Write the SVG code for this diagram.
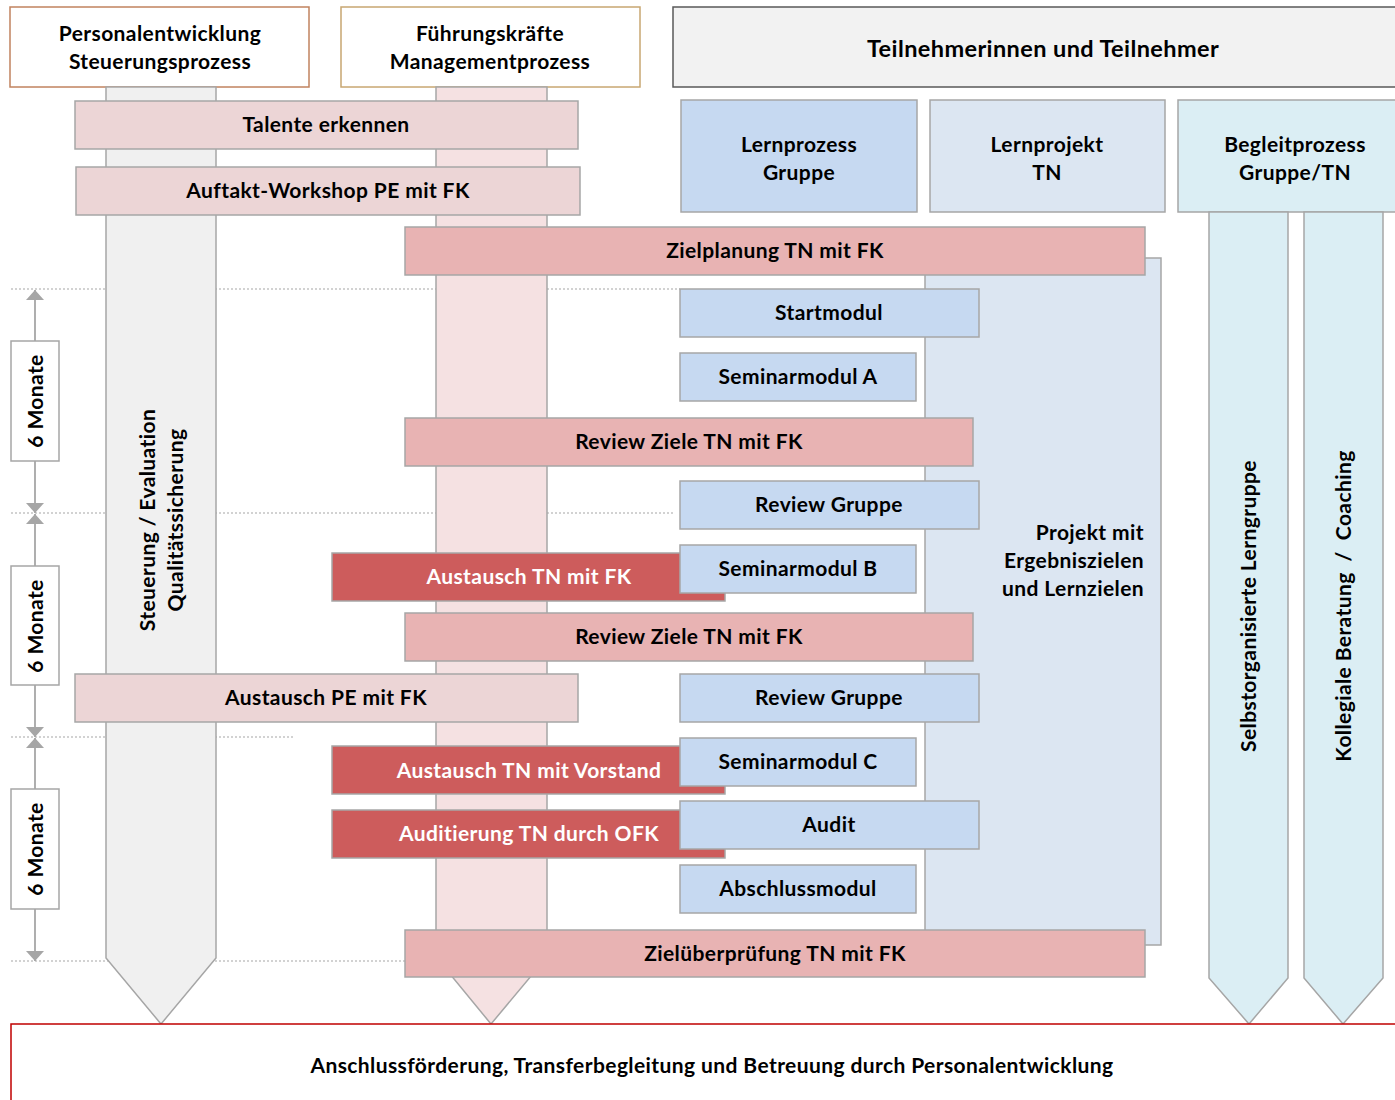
<svg xmlns="http://www.w3.org/2000/svg" width="1395" height="1100" viewBox="0 0 1395 1100">
<defs>
<style>
text{font-family:"Lato","Open Sans","Liberation Sans",sans-serif;font-weight:bold;font-size:21px;letter-spacing:0.4px;fill:#000;text-anchor:middle}
.bar{stroke:#a6a6a6;stroke-width:1.5}
.lp{fill:#ecd5d6}
.zp{fill:#e8b3b3}
.dr{fill:#cd5c5c}
.bl{fill:#c6d9f1}
.pj{fill:#dce6f2}
.bg{fill:#dbeef4}
.grid{stroke:#a6a6a6;stroke-width:1.2;stroke-dasharray:2 2;fill:none}
.conn{stroke:#a6a6a6;stroke-width:1.8;fill:none}
.pre{white-space:pre}
</style>
<marker id="ah" viewBox="0 0 10 18" refX="10" refY="9" markerWidth="10" markerHeight="18" markerUnits="userSpaceOnUse" orient="auto">
<path d="M0,0 L10,9 L0,18 Z" fill="#a6a6a6"/>
</marker>
</defs>
<rect width="1395" height="1100" fill="#fff"/>

<g id="gridlines">
<line class="grid" x1="11" y1="289" x2="680" y2="289"/>
<line class="grid" x1="11" y1="513" x2="673" y2="513"/>
<line class="grid" x1="11" y1="737" x2="295" y2="737"/>
<line class="grid" x1="11" y1="961" x2="405" y2="961"/>
</g>

<g id="header-pe">
<rect x="10" y="7" width="299" height="80" fill="#fff" stroke="#c1835f" stroke-width="1.5"/>
<text x="160" y="41">Personalentwicklung</text>
<text x="160" y="69">Steuerungsprozess</text>
</g>
<g id="header-fk">
<rect x="341" y="7" width="299" height="80" fill="#fff" stroke="#c8a772" stroke-width="1.5"/>
<text x="490" y="41">Führungskräfte</text>
<text x="490" y="69">Managementprozess</text>
</g>
<g id="header-tn">
<rect x="673" y="7" width="730" height="80" fill="#f2f2f2" stroke="#595959" stroke-width="1.5"/>
<text x="1043" y="57" style="font-size:23.5px">Teilnehmerinnen und Teilnehmer</text>
</g>

<g id="col-steuerung">
<path d="M106,87 L216,87 L216,958 L161,1024 L106,958 Z" fill="#f0f0f0" stroke="#a6a6a6" stroke-width="1.5"/>
<g transform="translate(161,520) rotate(-90)">
<text x="0" y="-6">Steuerung / Evaluation</text>
<text x="0" y="22">Qualitätssicherung</text>
</g>
</g>
<g id="col-management">
<path d="M436,87 L547,87 L547,957 L491,1024 L436,957 Z" fill="#f5e1e2" stroke="#a6a6a6" stroke-width="1.5"/>
</g>

<g id="lernprozess-gruppe">
<rect class="bar bl" x="681" y="100" width="236" height="112"/>
<text x="799" y="152">Lernprozess</text>
<text x="799" y="180">Gruppe</text>
</g>
<g id="lernprojekt-tn">
<rect class="bar pj" x="930" y="100" width="235" height="112"/>
<text x="1047" y="152">Lernprojekt</text>
<text x="1047" y="180">TN</text>
</g>
<g id="begleitprozess">
<rect class="bar bg" x="1178" y="100" width="225" height="112"/>
<text x="1295" y="152">Begleitprozess</text>
<text x="1295" y="180">Gruppe/TN</text>
</g>
<g id="col-lerngruppe">
<path class="bar bg" d="M1209,212 L1288,212 L1288,978 L1249,1024 L1209,978 Z"/>
<text transform="translate(1249,606) rotate(-90)" x="0" y="7">Selbstorganisierte Lerngruppe</text>
</g>
<g id="col-coaching">
<path class="bar bg" d="M1304,212 L1383,212 L1383,978 L1343,1024 L1304,978 Z"/>
<text class="pre" transform="translate(1343,606) rotate(-90)" x="0" y="8">Kollegiale Beratung  /  Coaching</text>
</g>

<g id="projekt">
<rect class="bar pj" x="925" y="258" width="236" height="687"/>
<text x="1144" y="540" style="text-anchor:end">Projekt mit</text>
<text x="1144" y="568" style="text-anchor:end">Ergebniszielen</text>
<text x="1144" y="596" style="text-anchor:end">und Lernzielen</text>
</g>

<g id="talente">
<rect class="bar lp" x="75" y="101" width="503" height="48"/>
<text x="326" y="132">Talente erkennen</text>
</g>
<g id="auftakt">
<rect class="bar lp" x="76" y="167" width="504" height="48"/>
<text x="328" y="198">Auftakt-Workshop PE mit FK</text>
</g>
<g id="zielplanung">
<rect class="bar zp" x="405" y="227" width="740" height="48"/>
<text x="775" y="258">Zielplanung TN mit FK</text>
</g>
<g id="startmodul">
<rect class="bar bl" x="680" y="289" width="299" height="48"/>
<text x="829" y="320">Startmodul</text>
</g>
<g id="seminarmodul-a">
<rect class="bar bl" x="680" y="353" width="236" height="48"/>
<text x="798" y="384">Seminarmodul A</text>
</g>
<g id="review-ziele-1">
<rect class="bar zp" x="405" y="418" width="568" height="48"/>
<text x="689" y="449">Review Ziele TN mit FK</text>
</g>
<g id="review-gruppe-1">
<rect class="bar bl" x="680" y="481" width="299" height="48"/>
<text x="829" y="512">Review Gruppe</text>
</g>
<g id="austausch-tn-fk">
<rect class="bar dr" x="332" y="553" width="393" height="48"/>
<text x="529" y="584" style="fill:#fff">Austausch TN mit FK</text>
</g>
<g id="seminarmodul-b">
<rect class="bar bl" x="680" y="545" width="236" height="48"/>
<text x="798" y="576">Seminarmodul B</text>
</g>
<g id="review-ziele-2">
<rect class="bar zp" x="405" y="613" width="568" height="48"/>
<text x="689" y="644">Review Ziele TN mit FK</text>
</g>
<g id="austausch-pe-fk">
<rect class="bar lp" x="75" y="674" width="503" height="48"/>
<text x="326" y="705">Austausch PE mit FK</text>
</g>
<g id="review-gruppe-2">
<rect class="bar bl" x="680" y="674" width="299" height="48"/>
<text x="829" y="705">Review Gruppe</text>
</g>
<g id="austausch-tn-vorstand">
<rect class="bar dr" x="332" y="746" width="393" height="48"/>
<text x="529" y="778" style="fill:#fff">Austausch TN mit Vorstand</text>
</g>
<g id="seminarmodul-c">
<rect class="bar bl" x="680" y="738" width="236" height="48"/>
<text x="798" y="769">Seminarmodul C</text>
</g>
<g id="auditierung">
<rect class="bar dr" x="332" y="810" width="393" height="48"/>
<text x="529" y="841" style="fill:#fff">Auditierung TN durch OFK</text>
</g>
<g id="audit">
<rect class="bar bl" x="680" y="801" width="299" height="48"/>
<text x="829" y="832">Audit</text>
</g>
<g id="abschlussmodul">
<rect class="bar bl" x="680" y="865" width="236" height="48"/>
<text x="798" y="896">Abschlussmodul</text>
</g>
<g id="zielueberpruefung">
<rect class="bar zp" x="405" y="930" width="740" height="47"/>
<text x="775" y="961">Zielüberprüfung TN mit FK</text>
</g>

<g id="anschluss">
<rect x="11" y="1024" width="1400" height="90" fill="#fff" stroke="#c00000" stroke-width="1.5"/>
<text x="712" y="1073">Anschlussförderung, Transferbegleitung und Betreuung durch Personalentwicklung</text>
</g>

<g id="connectors">
<line class="conn" x1="35" y1="341" x2="35" y2="290" marker-end="url(#ah)"/>
<line class="conn" x1="35" y1="461" x2="35" y2="513" marker-end="url(#ah)"/>
<line class="conn" x1="35" y1="566" x2="35" y2="514" marker-end="url(#ah)"/>
<line class="conn" x1="35" y1="685" x2="35" y2="737" marker-end="url(#ah)"/>
<line class="conn" x1="35" y1="789" x2="35" y2="738" marker-end="url(#ah)"/>
<line class="conn" x1="35" y1="909" x2="35" y2="961" marker-end="url(#ah)"/>
</g>

<g id="monate-1">
<rect x="11" y="341" width="48" height="120" fill="#fff" stroke="#a6a6a6" stroke-width="1.5"/>
<text transform="translate(35,401) rotate(-90)" x="0" y="8">6 Monate</text>
</g>
<g id="monate-2">
<rect x="11" y="566" width="48" height="119" fill="#fff" stroke="#a6a6a6" stroke-width="1.5"/>
<text transform="translate(35,626) rotate(-90)" x="0" y="8">6 Monate</text>
</g>
<g id="monate-3">
<rect x="11" y="789" width="48" height="120" fill="#fff" stroke="#a6a6a6" stroke-width="1.5"/>
<text transform="translate(35,849) rotate(-90)" x="0" y="8">6 Monate</text>
</g>
</svg>
